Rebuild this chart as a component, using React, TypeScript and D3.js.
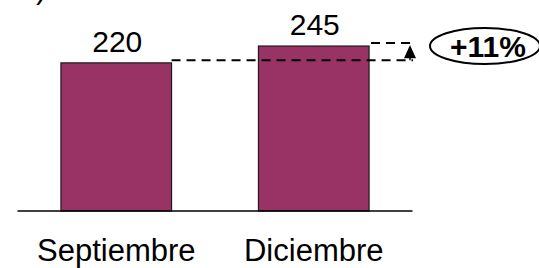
import * as d3 from 'd3'
import React from 'react'

const months = ['Septiembre', 'Diciembre']
const values = [220, 245]
const changeLabel = '+11%'

const W = 539
const H = 268
const font = 'Liberation Sans, Arial, sans-serif'

const App = () => {
    const xScale = d3.scaleBand<string>()
        .domain(months)
        .range([17.5, 412.5])
        .paddingInner(0.44)
        .paddingOuter(0.22)
    const yScale = d3.scaleLinear()
        .domain([0, 300])
        .range([211, 9])

    const bw = xScale.bandwidth()
    const x1 = xScale(months[0])! + bw
    const x2 = xScale(months[1])! + bw
    const arrowX = 410
    const yLow = yScale(values[0]) - 2.5
    const yHigh = yScale(values[1]) - 3

    return (
        <svg width={W} height={H} style={{ position: 'absolute', left: 0, top: 0 }} fontFamily={font}>
            <rect width={W} height={H} fill='white' />
            {/* cut-off bracket from the slide above */}
            <text x={36} y={-1} fontSize={30}>)</text>
            {months.map((m, i) => (
                <g key={m}>
                    <rect x={xScale(m)} y={yScale(values[i])} width={bw} height={yScale(0) - yScale(values[i])}
                        fill='#993366' stroke='#1a1a1a' strokeWidth={1.2} />
                    <text x={xScale(m)! + bw / 2 + 1} y={yScale(values[i]) - 11} fontSize={30} textAnchor='middle'>{values[i]}</text>
                    <text x={xScale(m)! + bw / 2} y={261} fontSize={31} textAnchor='middle'>{m}</text>
                </g>
            ))}
            <line x1={17.5} x2={412.5} y1={yScale(0)} y2={yScale(0)} stroke='black' strokeWidth={1.5} />
            {/* dashed reference lines */}
            <line x1={x1} x2={arrowX + 3} y1={yLow} y2={yLow} stroke='black' strokeWidth={2} strokeDasharray='9,6' />
            <line x1={x2 + 2} x2={arrowX + 5} y1={yHigh} y2={yHigh} stroke='black' strokeWidth={2} strokeDasharray='9,6' />
            <line x1={arrowX} x2={arrowX} y1={yLow} y2={yHigh + 8} stroke='black' strokeWidth={1.5} />
            <path d={`M${arrowX},${yHigh + 2} L${arrowX - 6},${yLow - 2} L${arrowX + 6},${yLow - 2} Z`} fill='black' />
            <ellipse cx={485} cy={46} rx={55} ry={18} fill='white' stroke='black' strokeWidth={2} />
            <text x={488} y={57} fontSize={30} fontWeight='bold' textAnchor='middle'>{changeLabel}</text>
        </svg>
    )
}

export default App
